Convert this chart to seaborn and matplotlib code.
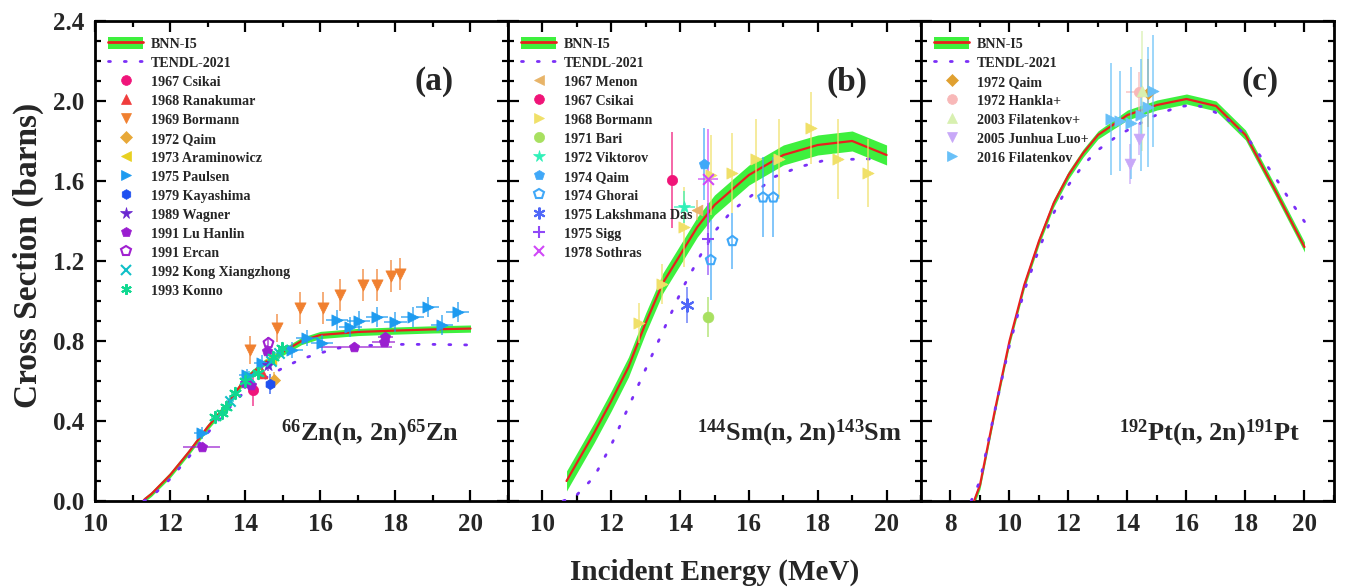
import numpy as np
import pandas as pd
import matplotlib
matplotlib.use("Agg")
import matplotlib.pyplot as plt
import seaborn as sns
from matplotlib.patches import Patch
from matplotlib.lines import Line2D
from matplotlib.ticker import MultipleLocator

# ---------------- data ----------------
# Panel (a) 66Zn(n,2n)65Zn
ZN_E = [11.3, 11.5, 12.0, 12.5, 13.0, 13.5, 14.0, 14.5, 15.0, 15.5, 16.0, 17.0, 18.0, 19.0, 20.0]
ZN_BNN = [0.005, 0.035, 0.13, 0.245, 0.37, 0.48, 0.61, 0.69, 0.745, 0.80, 0.83, 0.845, 0.852, 0.858, 0.862]
ZN_BAND = [0.012, 0.012, 0.014, 0.014, 0.015, 0.015, 0.016, 0.016, 0.017, 0.018, 0.018, 0.018, 0.018, 0.018, 0.018]
ZN_TENDL_E = [11.3, 11.5, 12.0, 12.5, 13.0, 13.5, 14.0, 14.5, 15.0, 15.5, 16.0, 16.5, 17.0, 18.0, 19.0, 20.0]
ZN_TENDL = [0.0, 0.02, 0.11, 0.22, 0.34, 0.45, 0.55, 0.61, 0.665, 0.71, 0.74, 0.765, 0.775, 0.783, 0.783, 0.78]

# each experiment: (E, XS, dE, dXS)
zn_csikai_1967 = ([14.21], [0.555], [0.0], [0.08])
zn_ranakumar_1968 = ([14.45], [0.64], [0.0], [0.03])
zn_bormann_1969 = ([14.13, 14.86, 15.47, 16.07, 16.53, 17.15, 17.51, 17.88, 18.11],
                   [0.755, 0.863, 0.963, 0.963, 1.03, 1.08, 1.08, 1.125, 1.133],
                   [0, 0, 0, 0, 0, 0, 0, 0, 0],
                   [0.07, 0.07, 0.08, 0.08, 0.08, 0.08, 0.08, 0.08, 0.08])
zn_qaim_1972 = ([14.76], [0.605], [0.0], [0.04])
zn_araminowicz_1973 = ([14.7], [0.71], [0.0], [0.03])
zn_paulsen_1975 = ([12.84, 14.04, 14.44, 15.24, 15.64, 16.04, 16.44, 16.8, 17.02, 17.51, 18.0, 18.46, 18.86, 19.24, 19.66],
                   [0.342, 0.63, 0.69, 0.755, 0.815, 0.79, 0.905, 0.868, 0.9, 0.918, 0.897, 0.922, 0.972, 0.88, 0.947],
                   [0.2, 0.2, 0.2, 0.3, 0.3, 0.3, 0.3, 0.3, 0.3, 0.3, 0.3, 0.3, 0.3, 0.3, 0.3],
                   [0.03, 0.03, 0.04, 0.04, 0.04, 0.04, 0.05, 0.05, 0.05, 0.05, 0.05, 0.05, 0.05, 0.05, 0.05])
zn_kayashima_1979 = ([14.65], [0.585], [0.0], [0.05])
zn_wagner_1989 = ([14.6], [0.68], [0.0], [0.03])
zn_luhanlin_1991 = ([12.84, 14.0, 14.15, 14.58, 16.9, 17.69, 17.73],
                    [0.27, 0.59, 0.58, 0.75, 0.772, 0.797, 0.82],
                    [0.5, 0.1, 0.1, 0.1, 1.0, 0.3, 0.2],
                    [0.02, 0.03, 0.03, 0.03, 0.02, 0.02, 0.02])
zn_ercan_1991 = ([14.62], [0.79], [0.0], [0.03])
zn_kong_1992 = ([13.6, 14.1, 14.7, 14.9], [0.50, 0.62, 0.70, 0.74], [0.1, 0.1, 0.1, 0.1], [0.03, 0.03, 0.03, 0.03])
zn_konno_1993 = ([13.2, 13.38, 13.5, 13.73, 14.0, 14.35, 14.75, 14.98],
                 [0.42, 0.44, 0.47, 0.54, 0.60, 0.64, 0.72, 0.765],
                 [0.1, 0.1, 0.1, 0.1, 0.1, 0.1, 0.1, 0.1],
                 [0.03, 0.03, 0.03, 0.03, 0.03, 0.03, 0.03, 0.03])

# Panel (b) 144Sm(n,2n)143Sm
SM_E = [10.7, 11.0, 11.5, 12.0, 12.5, 13.0, 13.5, 14.0, 14.5, 15.0, 16.0, 17.0, 18.0, 19.0, 20.0]
SM_BNN = [0.10, 0.19, 0.34, 0.50, 0.67, 0.89, 1.09, 1.23, 1.37, 1.48, 1.63, 1.73, 1.78, 1.80, 1.73]
SM_BAND = [0.05, 0.05, 0.05, 0.05, 0.05, 0.05, 0.05, 0.05, 0.05, 0.05, 0.05, 0.05, 0.05, 0.05, 0.05]
SM_TENDL_E = [10.6, 10.97, 11.5, 12.0, 12.5, 13.0, 13.44, 14.07, 14.63, 15.02, 15.5, 16.1, 16.73, 17.46, 18.24, 19.3, 19.9]
SM_TENDL = [0.0, 0.025, 0.12, 0.28, 0.47, 0.66, 0.825, 1.063, 1.24, 1.35, 1.45, 1.53, 1.62, 1.67, 1.705, 1.71, 1.71]

sm_menon_1967 = ([14.5], [1.455], [0.0], [0.05])
sm_csikai_1967 = ([13.76], [1.605], [0.0], [0.24])
sm_bormann_1968 = ([12.81, 13.47, 14.12, 14.89, 15.52, 16.2, 16.86, 17.8, 18.6, 19.47],
                   [0.888, 1.085, 1.37, 1.63, 1.64, 1.71, 1.71, 1.863, 1.71, 1.64],
                   [0, 0, 0, 0, 0, 0, 0, 0, 0, 0],
                   [0.1, 0.1, 0.2, 0.2, 0.2, 0.2, 0.2, 0.18, 0.2, 0.17])
sm_bari_1971 = ([14.81], [0.922], [0.1], [0.1])
sm_viktorov_1972 = ([14.12], [1.47], [0.3], [0.08])
sm_qaim_1974 = ([14.7], [1.683], [0.0], [0.18])
sm_ghorai_1974 = ([14.89, 15.52, 16.41, 16.71], [1.205, 1.30, 1.518, 1.518], [0, 0, 0, 0], [0.2, 0.14, 0.2, 0.2])
sm_lakshmana_1975 = ([14.21], [0.98], [0.0], [0.09])
sm_sigg_1975 = ([14.81], [1.31], [0.0], [0.18])
sm_sothras_1978 = ([14.81], [1.61], [0.3], [0.25])

# Panel (c) 192Pt(n,2n)191Pt
PT_E = [8.8, 9.0, 9.5, 10.0, 10.5, 11.0, 11.5, 12.0, 12.5, 13.0, 14.0, 15.0, 16.0, 17.0, 18.0, 19.0, 20.0]
PT_BNN = [0.0, 0.08, 0.45, 0.80, 1.08, 1.30, 1.49, 1.63, 1.74, 1.83, 1.93, 1.98, 2.01, 1.975, 1.83, 1.555, 1.27]
PT_BAND = [0.02, 0.02, 0.02, 0.02, 0.02, 0.02, 0.02, 0.02, 0.02, 0.02, 0.025, 0.025, 0.025, 0.025, 0.025, 0.025, 0.025]
PT_TENDL_E = [8.7, 9.0, 9.5, 10.0, 10.5, 11.0, 11.5, 12.0, 12.5, 13.0, 13.7, 14.9, 15.7, 16.2, 16.6, 17.3, 18.0, 18.5, 19.0, 19.5, 20.0]
PT_TENDL = [0.0, 0.1, 0.45, 0.78, 1.05, 1.26, 1.44, 1.58, 1.68, 1.755, 1.83, 1.925, 1.97, 1.98, 1.97, 1.92, 1.83, 1.725, 1.62, 1.505, 1.397]

pt_qaim_1972 = ([14.69], [2.04], [0.0], [0.17])
pt_hankla_1972 = ([14.4], [2.045], [0.45], [0.1])
pt_filatenkov_2003 = ([14.5], [2.05], [0.0], [0.3])
pt_luo_2005 = ([14.07, 14.38], [1.685, 1.81], [0.05, 0.05], [0.1, 0.08])
pt_filatenkov_2016 = ([13.45, 13.75, 14.13, 14.45, 14.7, 14.85],
                      [1.91, 1.90, 1.89, 1.93, 1.97, 2.05],
                      [0, 0, 0, 0, 0, 0],
                      [0.28, 0.25, 0.28, 0.28, 0.3, 0.28])

# ---------------- style ----------------
sns.set_theme(style="white")
plt.rcParams["font.family"] = ["Liberation Serif", "DejaVu Serif"]
plt.rcParams["font.weight"] = "bold"
plt.rcParams["mathtext.fontset"] = "custom"
plt.rcParams["mathtext.rm"] = "Liberation Serif:bold"
plt.rcParams["mathtext.it"] = "Liberation Serif:bold"
plt.rcParams["mathtext.bf"] = "Liberation Serif:bold"

GREEN = "#3ef03e"
RED = "#e8201e"
PURPLE = "#7b2ff7"
ASTER = (6, 2, 0)

fig, axes = plt.subplots(1, 3, figsize=(13.48, 5.88), dpi=100, sharey=True)
fig.subplots_adjust(left=0.0705, right=0.9896, bottom=0.148, top=0.9643, wspace=0)


def draw_exp(ax, data, marker, color, label, s=60, filled=True, lw=1.5):
    x, y, dx, dy = [np.asarray(v, dtype=float) for v in data]
    ax.errorbar(x, y, xerr=dx, yerr=dy, fmt="none", ecolor=color, elinewidth=1.4,
                alpha=0.65, capsize=0, zorder=4)
    if filled:
        sns.scatterplot(x=x, y=y, ax=ax, marker=marker, s=s, color=color,
                        edgecolor=color, linewidth=0.5 if marker not in ("x", "+", ASTER) else lw,
                        zorder=5, legend=False)
    else:
        sns.scatterplot(x=x, y=y, ax=ax, marker=marker, s=s, color=color,
                        facecolors="none", edgecolor=color, linewidth=lw,
                        zorder=5, legend=False)
    mfc = color if filled else "none"
    return Line2D([], [], linestyle="none", marker=marker, color=color, mfc=mfc, mec=color,
                  markersize=np.sqrt(s) * 0.95, mew=lw if (not filled or marker in ("x", "+", ASTER)) else 0.5)


def draw_model(ax, e, bnn, band, te, tendl):
    e = np.asarray(e); bnn = np.asarray(bnn); band = np.asarray(band)
    ax.fill_between(e, bnn - band, bnn + band, color=GREEN, lw=0, zorder=2)
    sns.lineplot(x=e, y=bnn, ax=ax, color=RED, lw=1.6, zorder=3, sort=False, legend=False)
    sns.lineplot(x=te, y=tendl, ax=ax, color=PURPLE, lw=2.0, linestyle=(0, (0.7, 5.0)),
                 dash_capstyle="round", zorder=3, sort=False, legend=False)
    h_bnn = (Patch(facecolor=GREEN, edgecolor="none"), Line2D([], [], color=RED, lw=2))
    h_tendl = Line2D([], [], color=PURPLE, lw=2.0, linestyle=(0, (0.7, 5.0)), dash_capstyle="round")
    return [h_bnn, h_tendl], ["BNN-I5", "TENDL-2021"]


def style_axis(ax, xlim, tag, reaction, rx):
    ax.set_xlim(*xlim)
    ax.set_ylim(0, 2.4)
    ax.xaxis.set_major_locator(MultipleLocator(2))
    ax.xaxis.set_minor_locator(MultipleLocator(1))
    ax.yaxis.set_major_locator(MultipleLocator(0.4))
    ax.yaxis.set_minor_locator(MultipleLocator(0.1))
    ax.yaxis.set_major_formatter(matplotlib.ticker.FormatStrFormatter("%.1f"))
    ax.tick_params(which="both", direction="in", top=True, right=True, bottom=True, left=True,
                   labelsize=18, width=1.6, color="black")
    ax.tick_params(which="major", length=8)
    ax.tick_params(which="minor", length=4)
    ax.tick_params(axis="x", which="major", pad=9)
    ax.tick_params(axis="y", which="major", pad=8)
    for sp in ax.spines.values():
        sp.set_linewidth(2.0)
        sp.set_color("black")
    for lab in ax.get_xticklabels() + ax.get_yticklabels():
        lab.set_fontweight("bold")
    ax.set_xlabel("")
    ax.set_ylabel("")
    ax.text(0.82, 0.873, tag, transform=ax.transAxes, fontsize=24, fontweight="bold",
            ha="center", va="center")
    ax.text(rx, 0.14, reaction, transform=ax.transAxes, fontsize=19, fontweight="bold",
            ha="center", va="center")


def add_legend(ax, handles, labels):
    ax.legend(handles, labels, loc="upper left", bbox_to_anchor=(0.012, 0.985), frameon=False,
              prop={"family": "Liberation Serif", "weight": "bold", "size": 10.1},
              handlelength=2.45, handleheight=1.0, labelspacing=0.35, handletextpad=0.6,
              borderaxespad=0.3, borderpad=0.3)


# ---- panel a
ax = axes[0]
h, l = draw_model(ax, ZN_E, ZN_BNN, ZN_BAND, ZN_TENDL_E, ZN_TENDL)
specs_a = [
    (zn_csikai_1967, "o", "#f0147a", "1967 Csikai", 55, True),
    (zn_ranakumar_1968, "^", "#f03c3c", "1968 Ranakumar", 60, True),
    (zn_bormann_1969, "v", "#f08030", "1969 Bormann", 65, True),
    (zn_qaim_1972, "D", "#e8a838", "1972 Qaim", 38, True),
    (zn_araminowicz_1973, "<", "#e8d020", "1973 Araminowicz", 60, True),
    (zn_paulsen_1975, ">", "#1e9bf0", "1975 Paulsen", 65, True),
    (zn_kayashima_1979, "h", "#1e50f0", "1979 Kayashima", 55, True),
    (zn_wagner_1989, "*", "#6a28d0", "1989 Wagner", 80, True),
    (zn_luhanlin_1991, "p", "#9a1ed0", "1991 Lu Hanlin", 60, True),
    (zn_ercan_1991, "p", "#a020d0", "1991 Ercan", 55, False),
    (zn_kong_1992, "x", "#10c0c8", "1992 Kong Xiangzhong", 55, True),
    (zn_konno_1993, ASTER, "#10d890", "1993 Konno", 65, True),
]
for d, m, c, lab, s, f in specs_a:
    h.append(draw_exp(ax, d, m, c, lab, s, f)); l.append(lab)
add_legend(ax, h, l)
style_axis(ax, (10, 21), "(a)", r"$^{66}$Zn(n, 2n)$^{65}$Zn", 0.665)

# ---- panel b
ax = axes[1]
h, l = draw_model(ax, SM_E, SM_BNN, SM_BAND, SM_TENDL_E, SM_TENDL)
specs_b = [
    (sm_menon_1967, "<", "#e8b468", "1967 Menon", 60, True),
    (sm_csikai_1967, "o", "#f01478", "1967 Csikai", 55, True),
    (sm_bormann_1968, ">", "#f0e068", "1968 Bormann", 65, True),
    (sm_bari_1971, "o", "#a8e060", "1971 Bari", 60, True),
    (sm_viktorov_1972, "*", "#30f0b8", "1972 Viktorov", 80, True),
    (sm_qaim_1974, "p", "#40a8f8", "1974 Qaim", 60, True),
    (sm_ghorai_1974, "p", "#40a8f8", "1974 Ghorai", 55, False),
    (sm_lakshmana_1975, ASTER, "#5068f8", "1975 Lakshmana Das", 80, True),
    (sm_sigg_1975, "+", "#9048f8", "1975 Sigg", 70, True),
    (sm_sothras_1978, "x", "#d048f8", "1978 Sothras", 60, True),
]
for d, m, c, lab, s, f in specs_b:
    h.append(draw_exp(ax, d, m, c, lab, s, f)); l.append(lab)
add_legend(ax, h, l)
style_axis(ax, (9, 21), "(b)", r"$^{144}$Sm(n, 2n)$^{143}$Sm", 0.705)

# ---- panel c
ax = axes[2]
h, l = draw_model(ax, PT_E, PT_BNN, PT_BAND, PT_TENDL_E, PT_TENDL)
specs_c = [
    (pt_qaim_1972, "D", "#e0a030", "1972 Qaim", 38, True),
    (pt_hankla_1972, "o", "#f8b8b8", "1972 Hankla+", 55, True),
    (pt_filatenkov_2003, "^", "#d8f0b0", "2003 Filatenkov+", 60, True),
    (pt_luo_2005, "v", "#c8a8f8", "2005 Junhua Luo+", 60, True),
    (pt_filatenkov_2016, ">", "#68c0f8", "2016 Filatenkov", 65, True),
]
for d, m, c, lab, s, f in specs_c:
    h.append(draw_exp(ax, d, m, c, lab, s, f)); l.append(lab)
add_legend(ax, h, l)
style_axis(ax, (7, 21), "(c)", r"$^{192}$Pt(n, 2n)$^{191}$Pt", 0.70)

for ax in axes[1:]:
    ax.tick_params(labelleft=False)

fig.text(0.021, 0.565, "Cross Section (barns)", rotation=90, ha="center", va="center",
         fontsize=24, fontweight="bold")
fig.text(0.53, 0.027, "Incident Energy (MeV)", ha="center", va="center",
         fontsize=21, fontweight="bold")

fig.savefig("out.png", dpi=100)
